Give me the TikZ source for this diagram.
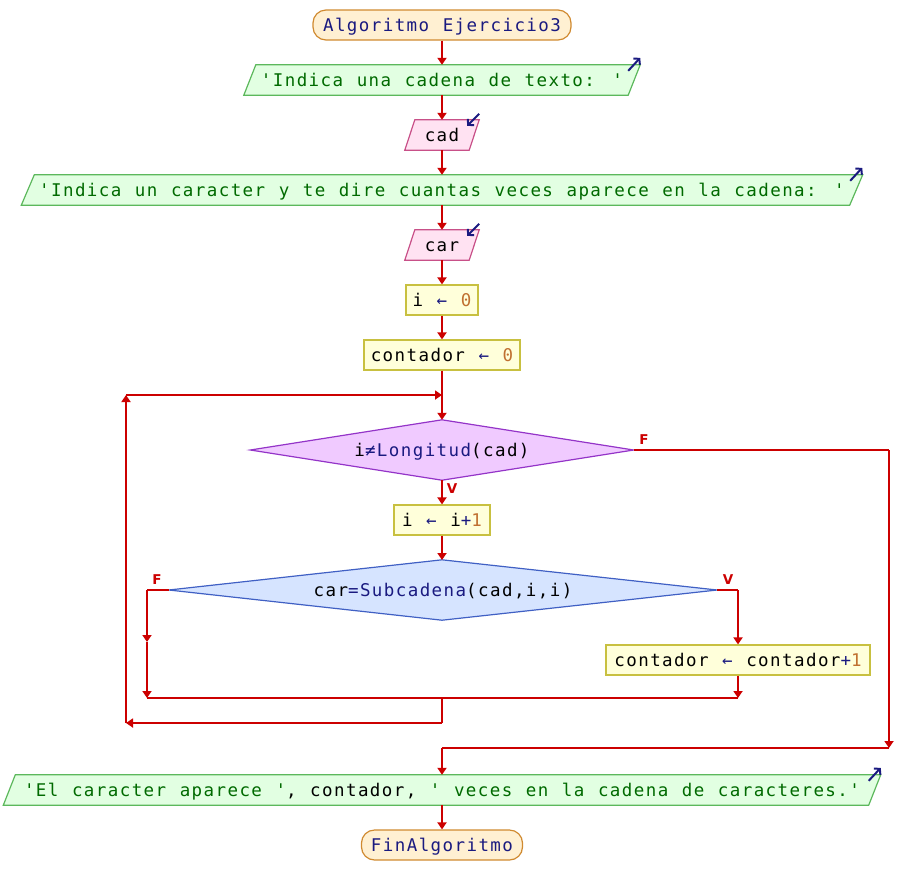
\documentclass[tikz,border=0pt]{standalone}
\usepackage{fontspec}
\usetikzlibrary{arrows.meta,shapes.geometric,backgrounds}
\newfontfamily\psmono[LetterSpace=8.1,WordSpace=1.134,Ligatures=TeXOff]{DejaVu Sans Mono}
\newfontfamily\pslabel{DejaVu Sans}
\definecolor{connc}{HTML}{CC0000}
\definecolor{navyc}{HTML}{1A1A80}
\definecolor{strc}{HTML}{006A00}
\definecolor{numc}{HTML}{C07030}
\definecolor{termf}{HTML}{FFF0D2}
\definecolor{termd}{HTML}{D08A30}
\definecolor{outf}{HTML}{E2FFE2}
\definecolor{outd}{HTML}{5CB85C}
\definecolor{inf}{HTML}{FFE2F2}
\definecolor{ind}{HTML}{C85088}
\definecolor{asgf}{HTML}{FFFFDA}
\definecolor{asgd}{HTML}{C8C040}
\definecolor{dAf}{HTML}{F0CAFF}
\definecolor{dAd}{HTML}{9434C8}
\definecolor{dBf}{HTML}{D6E4FF}
\definecolor{dBd}{HTML}{4060C4}
\newcommand\psstr[1]{\textcolor{strc}{#1}}
\newcommand\psfn[1]{\textcolor{navyc}{#1}}
\newcommand\psnum[1]{\textcolor{numc}{#1}}
\tikzset{
  base/.style={font=\psmono\fontsize{17.5}{20}\selectfont, text=black, inner sep=0pt, text height=17.5pt, text depth=4pt},
  conn/.style={draw=connc, line width=2pt},
  arr/.style={conn, -{Triangle[length=7pt,width=9pt]}},
  icon/.style={draw=navyc, line width=2pt, -{Straight Barb[length=4pt,width=9pt]}},
  term/.style={base, draw=termd, fill=termf, rounded corners=13pt, minimum height=30pt, line width=1.2pt},
  asg/.style={base, draw=asgd, fill=asgf, minimum height=30pt, line width=1.2pt},
  ptxt/.style={base, minimum height=30pt},
  outbox/.style={draw=outd, fill=outf, line width=1.2pt},
  inbox/.style={draw=ind, fill=inf, line width=1.2pt},
  decAbox/.style={draw=dAd, fill=dAf, line width=1.2pt},
  decBbox/.style={draw=dBd, fill=dBf, line width=1.2pt},
  flab/.style={font=\pslabel\bfseries\fontsize{13.5}{14}\selectfont, text=connc, inner sep=0pt}
}
\begin{document}
\begin{tikzpicture}[x=1pt,y=-1pt]
\useasboundingbox (0,0) rectangle (900,895);
% nodes
\node[term, minimum width=258pt] (start) at (442,25) {\psfn{Algoritmo Ejercicio3}};
\node[ptxt, minimum width=384pt] (o1) at (442,80) {\psstr{'Indica una cadena de texto: '}};
\node[ptxt, minimum width=64pt] (in1) at (442,135) {cad};
\node[ptxt, minimum width=828pt] (o2) at (442,190) {\psstr{'Indica un caracter y te dire cuantas veces aparece en la cadena: '}};
\node[ptxt, minimum width=64pt] (in2) at (442,245) {car};
\node[asg, minimum width=72pt] (a1) at (442,300) {i \psfn{←} \psnum{0}};
\node[asg, minimum width=156pt] (a2) at (442,355) {contador \psfn{←} \psnum{0}};
\node[ptxt, minimum width=383pt, minimum height=60pt] (d1) at (442,450) {i\psfn{≠Longitud}(cad)};
\node[asg, minimum width=96pt] (a3) at (442,520) {i \psfn{←} i\psfn{+}\psnum{1}};
\node[ptxt, minimum width=548pt, minimum height=60pt] (d2) at (443,590) {car\psfn{=Subcadena}(cad,i,i)};
\node[asg, minimum width=264pt] (a4) at (738,660) {contador \psfn{←} contador\psfn{+}\psnum{1}};
\node[ptxt, minimum width=865pt] (o3) at (442,790) {\psstr{'El caracter aparece '}, contador, \psstr{' veces en la cadena de caracteres.'}};
\node[term, minimum width=161pt] (fin) at (442,845) {\psfn{FinAlgoritmo}};
% labels
\node[flab] (lF1) at (644,440) {F};
\node[flab] (lV1) at (452,489) {V};
\node[flab] (lF2) at (157,580) {F};
\node[flab] (lV2) at (728,580) {V};
% shape bodies behind the texts
\begin{pgfonlayer}{background}
\path[outbox] ([xshift=-6pt]o1.south west) -- ([xshift=6pt]o1.north west) -- ([xshift=6pt]o1.north east) -- ([xshift=-6pt]o1.south east) -- cycle;
\path[outbox] ([xshift=-6.5pt]o2.south west) -- ([xshift=6.5pt]o2.north west) -- ([xshift=6.5pt]o2.north east) -- ([xshift=-6.5pt]o2.south east) -- cycle;
\path[outbox] ([xshift=-6pt]o3.south west) -- ([xshift=6pt]o3.north west) -- ([xshift=6pt]o3.north east) -- ([xshift=-6pt]o3.south east) -- cycle;
\path[inbox] ([xshift=-5pt]in1.south west) -- ([xshift=5pt]in1.north west) -- ([xshift=5pt]in1.north east) -- ([xshift=-5pt]in1.south east) -- cycle;
\path[inbox] ([xshift=-5pt]in2.south west) -- ([xshift=5pt]in2.north west) -- ([xshift=5pt]in2.north east) -- ([xshift=-5pt]in2.south east) -- cycle;
\path[decAbox] (d1.west) -- (d1.north) -- (d1.east) -- (d1.south) -- cycle;
\path[decBbox] (d2.west) -- ([xshift=-1pt]d2.north) -- (d2.east) -- ([xshift=-1pt]d2.south) -- cycle;
\end{pgfonlayer}
% icons
\draw[icon] ([shift={(-6,6)}]o1.north east) -- ([shift={(6,-7)}]o1.north east);
\draw[icon] ([shift={(-6,6)}]o2.north east) -- ([shift={(6,-7)}]o2.north east);
\draw[icon] ([shift={(-6,6)}]o3.north east) -- ([shift={(6,-7)}]o3.north east);
\draw[icon] ([shift={(5,-6)}]in1.north east) -- ([shift={(-7,6)}]in1.north east);
\draw[icon] ([shift={(5,-6)}]in2.north east) -- ([shift={(-7,6)}]in2.north east);
% bend points
\coordinate (j0) at (442,395);
\coordinate (lb) at (126,395);
\coordinate (lbb) at (126,723);
\coordinate (m1) at (442,698);
\coordinate (m2) at (442,723);
\coordinate (fl) at (147,590);
\coordinate (fmid) at (147,642);
\coordinate (fb) at (147,698);
\coordinate (vr) at (738,590);
\coordinate (cb) at (738,698);
\coordinate (r1) at (889,450);
\coordinate (r2) at (889,748);
\coordinate (r3) at (442,748);
\coordinate (d2top) at (442,560);
% connectors
\draw[arr] (start.south) -- (o1.north);
\draw[arr] (o1.south) -- (in1.north);
\draw[arr] (in1.south) -- (o2.north);
\draw[arr] (o2.south) -- (in2.north);
\draw[arr] (in2.south) -- (a1.north);
\draw[arr] (a1.south) -- (a2.north);
\draw[conn] (a2.south) -- (j0);
\draw[arr] (j0) -- (d1.north);
\draw[arr] (d1.south) -- (a3.north);
\draw[arr] (a3.south) -- (d2top);
\draw[conn] (d2.west) -- (fl);
\draw[arr] (fl) -- (fmid);
\draw[arr] (fmid) -- (fb);
\draw[conn] (fb) -- (cb);
\draw[conn] (d2.east) -- (vr);
\draw[arr] (vr) -- (a4.north);
\draw[arr] (a4.south) -- (cb);
\draw[conn] (m1) -- (m2);
\draw[arr] (m2) -- (lbb);
\draw[arr] (lbb) -- (lb);
\draw[arr] (lb) -- (j0);
\draw[conn] (d1.east) -- (r1);
\draw[arr] (r1) -- (r2);
\draw[conn] (r2) -- (r3);
\draw[arr] (r3) -- (o3.north);
\draw[arr] (o3.south) -- (fin.north);
\end{tikzpicture}
\end{document}
